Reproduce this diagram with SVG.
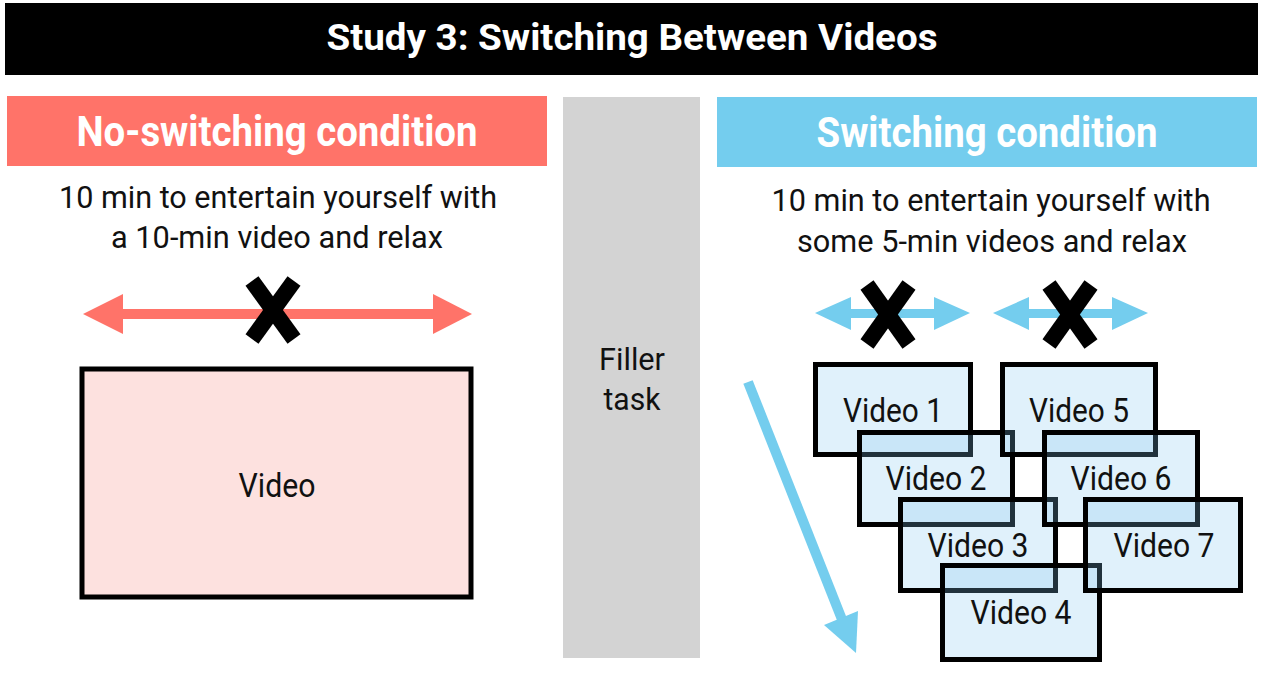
<svg xmlns="http://www.w3.org/2000/svg" width="1264" height="676" viewBox="0 0 1264 676">
<defs>
<style>
.hdr{font-family:Roboto,"Liberation Sans",sans-serif;font-weight:700;fill:#fff;text-anchor:middle}
.txt{font-family:Roboto,"Liberation Sans",sans-serif;font-weight:400;fill:#111;text-anchor:middle;font-size:32px}
.vl{font-size:34px}
.vb{fill:rgb(130,200,240);fill-opacity:0.25;stroke:#000;stroke-width:5}
.x{stroke:#000;stroke-width:16;stroke-linecap:butt}
</style>
</defs>
<rect width="1264" height="676" fill="#fff"/>
<g id="title">
<rect x="5" y="3" width="1253" height="72" fill="#000"/>
<text class="hdr" x="632" y="50" font-size="37" textLength="611" lengthAdjust="spacingAndGlyphs">Study 3: Switching Between Videos</text>
</g>
<g id="no-switching">
<rect x="7" y="96" width="540" height="70" fill="#FF7369"/>
<text class="hdr" x="277" y="146" font-size="42" textLength="401" lengthAdjust="spacingAndGlyphs">No-switching condition</text>
<text class="txt" x="278" y="208" textLength="438" lengthAdjust="spacingAndGlyphs">10 min to entertain yourself with</text>
<text class="txt" x="277" y="248" textLength="332" lengthAdjust="spacingAndGlyphs">a 10-min video and relax</text>
</g>
<g id="video-left">
<rect x="82" y="369" width="389" height="228" fill="#FDE1DF" stroke="#000" stroke-width="5"/>
<text class="txt vl" x="277" y="497" textLength="77" lengthAdjust="spacingAndGlyphs">Video</text>
</g>
<g id="filler">
<rect x="563" y="97" width="137" height="561" fill="#D3D3D3"/>
<text class="txt" x="632" y="370" textLength="66" lengthAdjust="spacingAndGlyphs">Filler</text>
<text class="txt" x="632" y="410" textLength="57" lengthAdjust="spacingAndGlyphs">task</text>
</g>
<g id="switching">
<rect x="717" y="97" width="540" height="70" fill="#74CDEE"/>
<text class="hdr" x="987" y="147" font-size="42" textLength="341" lengthAdjust="spacingAndGlyphs">Switching condition</text>
<text class="txt" x="991" y="211" textLength="439" lengthAdjust="spacingAndGlyphs">10 min to entertain yourself with</text>
<text class="txt" x="992" y="252" textLength="390" lengthAdjust="spacingAndGlyphs">some 5-min videos and relax</text>
</g>
<g id="connectors">
<g fill="#FF7369">
<rect x="118" y="309" width="320" height="10"/>
<polygon points="83,314 123,294 123,334"/>
<polygon points="472,314 433,294 433,334"/>
</g>
<g fill="#74CDEE">
<rect x="846" y="309" width="90" height="9"/>
<polygon points="815,313 851,297 851,330"/>
<polygon points="970,313 934,297 934,330"/>
<rect x="1024" y="309" width="90" height="9"/>
<polygon points="993,313 1029,297 1029,330"/>
<polygon points="1148,313 1112,297 1112,330"/>
<line x1="748" y1="382" x2="843" y2="622" stroke="#74CDEE" stroke-width="10"/>
<polygon points="856,653 824,625 858,611"/>
</g>
<line class="x" x1="252" y1="281" x2="294" y2="339"/>
<line class="x" x1="294" y1="281" x2="252" y2="339"/>
<line class="x" x1="867" y1="285" x2="909" y2="344"/>
<line class="x" x1="909" y1="285" x2="867" y2="344"/>
<line class="x" x1="1049" y1="285" x2="1091" y2="344"/>
<line class="x" x1="1091" y1="285" x2="1049" y2="344"/>
</g>
<g id="video1"><rect class="vb" x="815.5" y="364.5" width="155" height="90"/><text class="txt vl" x="893" y="422" textLength="100" lengthAdjust="spacingAndGlyphs">Video 1</text></g>
<g id="video2"><rect class="vb" x="859.5" y="432.5" width="153" height="92"/><text class="txt vl" x="936" y="490" textLength="101" lengthAdjust="spacingAndGlyphs">Video 2</text></g>
<g id="video3"><rect class="vb" x="900.5" y="499.5" width="155" height="91"/><text class="txt vl" x="978" y="557" textLength="101" lengthAdjust="spacingAndGlyphs">Video 3</text></g>
<g id="video4"><rect class="vb" x="942.5" y="565.5" width="157" height="94"/><text class="txt vl" x="1021" y="624" textLength="101" lengthAdjust="spacingAndGlyphs">Video 4</text></g>
<g id="video5"><rect class="vb" x="1002.5" y="364.5" width="153" height="90"/><text class="txt vl" x="1079" y="422" textLength="100" lengthAdjust="spacingAndGlyphs">Video 5</text></g>
<g id="video6"><rect class="vb" x="1044.5" y="432.5" width="153" height="92"/><text class="txt vl" x="1121" y="490" textLength="101" lengthAdjust="spacingAndGlyphs">Video 6</text></g>
<g id="video7"><rect class="vb" x="1085.5" y="499.5" width="155" height="91"/><text class="txt vl" x="1164" y="557" textLength="101" lengthAdjust="spacingAndGlyphs">Video 7</text></g>
</svg>
